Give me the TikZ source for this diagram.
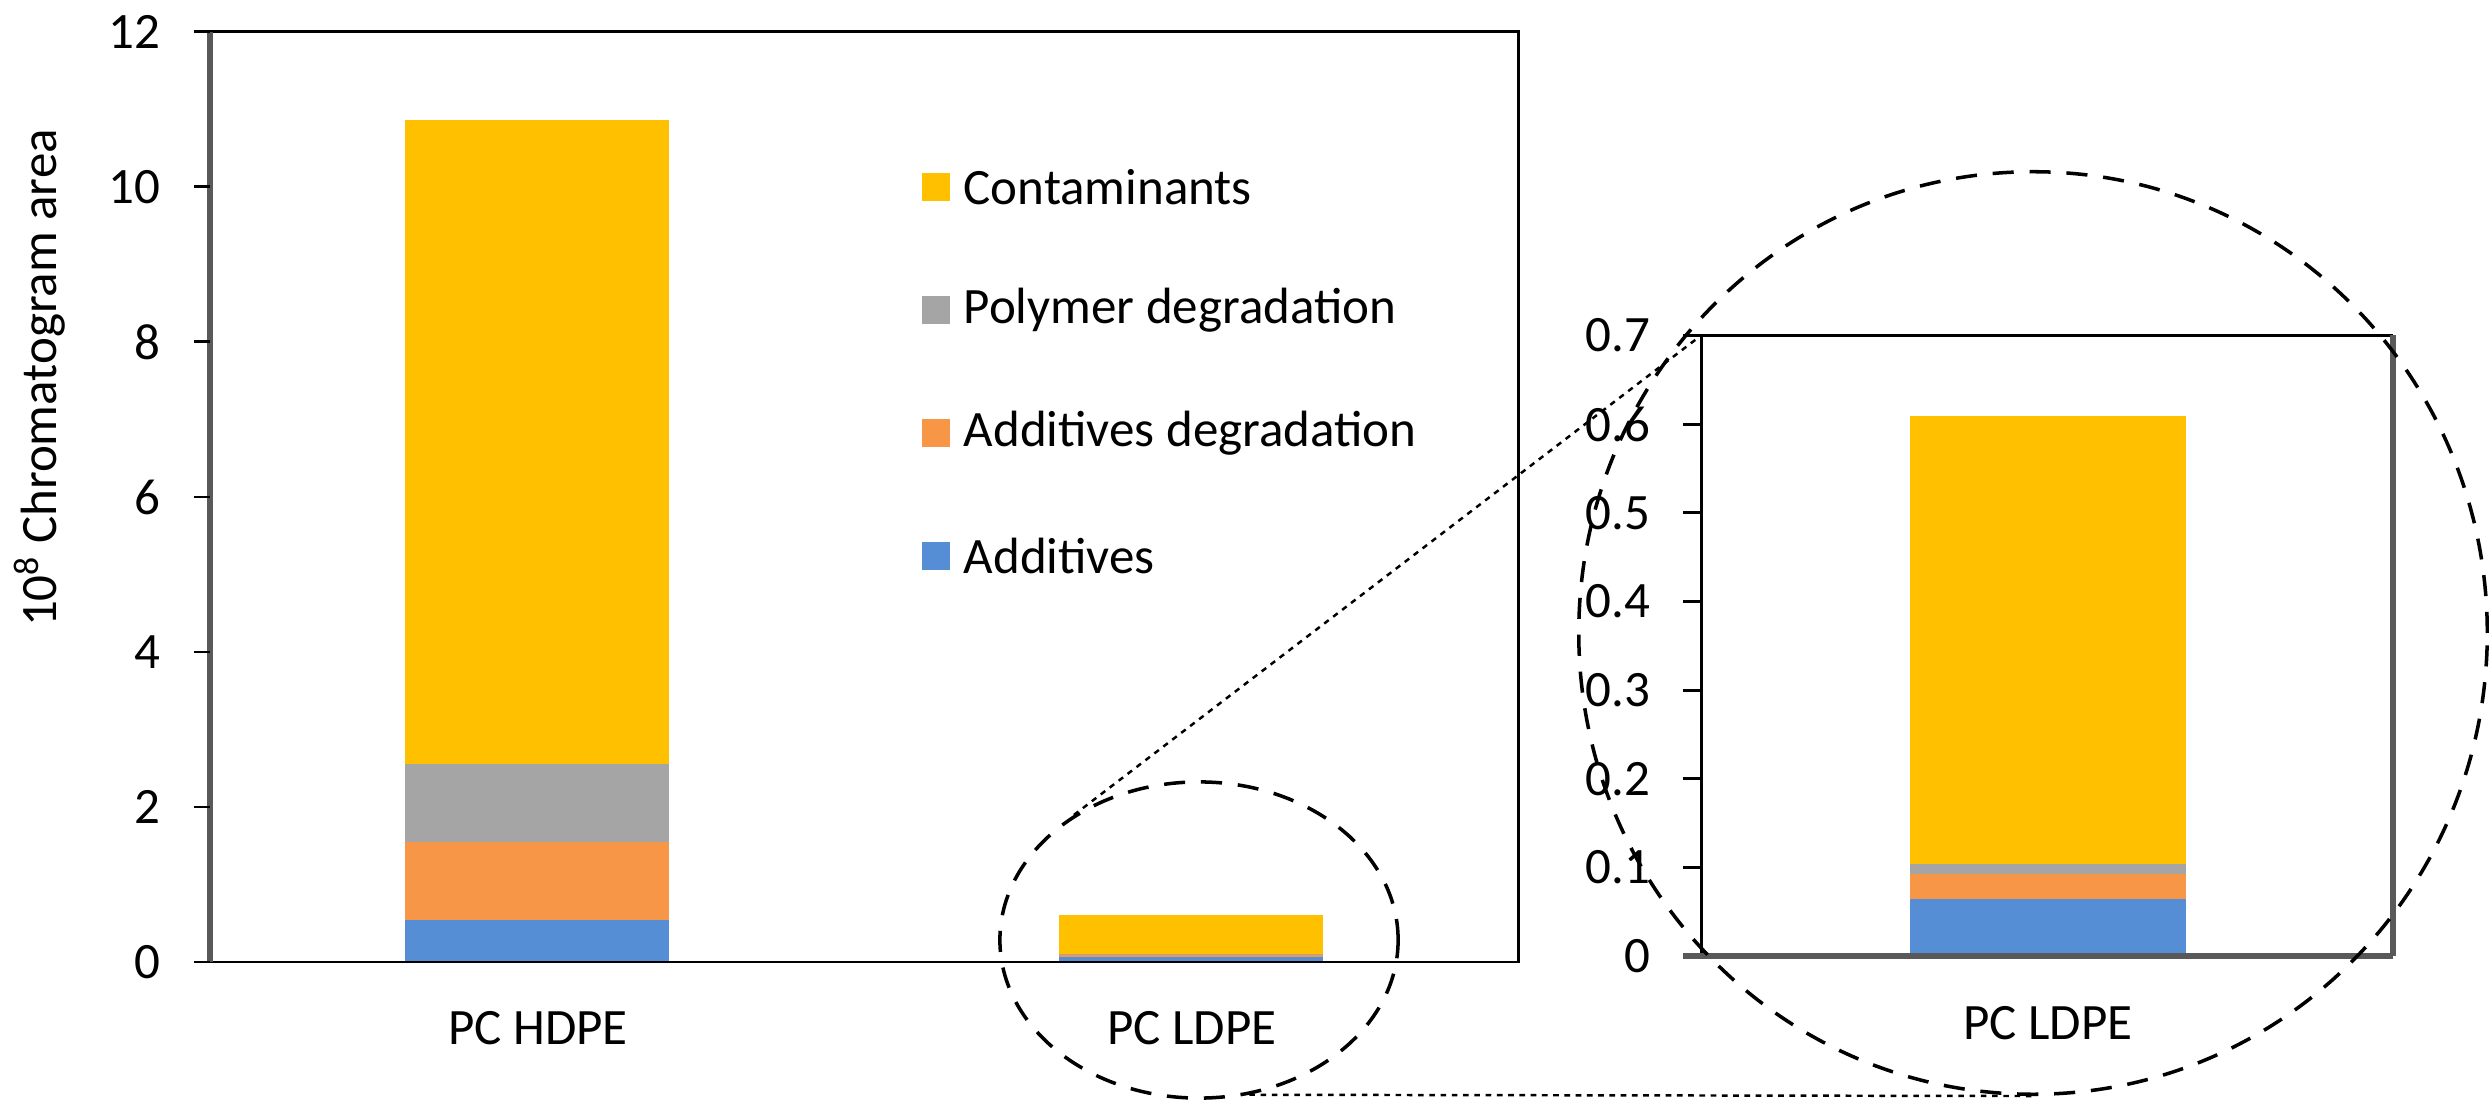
\documentclass[tikz,border=0pt]{standalone}
\usepackage{fontspec}
\setmainfont{Carlito}
\usetikzlibrary{shapes.geometric}
\definecolor{cyel}{HTML}{FFC000}
\definecolor{cgray}{HTML}{A5A5A5}
\definecolor{corange}{HTML}{F79646}
\definecolor{cblue}{HTML}{558ED5}
\definecolor{axisgray}{HTML}{595959}
\tikzset{
  lbl/.style={inner sep=0pt, font=\fontsize{14.5}{17}\selectfont},
  frameline/.style={line width=0.85pt, black},
  axisline/.style={line width=1.5pt, axisgray},
  zoomring/.style={ellipse, draw, inner sep=0pt, line width=1pt, dash pattern=on 6pt off 4.5pt},
  leader/.style={line width=0.7pt, dash pattern=on 1.6pt off 1.6pt},
  legbox/.style={minimum width=0.28cm, minimum height=0.28cm, inner sep=0pt}
}
\begin{document}
\begin{tikzpicture}[x=0.01cm,y=-0.01cm]
\useasboundingbox (0,0) rectangle (2489,1104);
% ---------- main chart ----------
% bars
\fill[cblue]   (405,962)   rectangle (669,920.2);
\fill[corange] (405,920.2) rectangle (669,841.9);
\fill[cgray]   (405,841.9) rectangle (669,764.4);
\fill[cyel]    (405,764.4) rectangle (669,120.4);
\fill[cblue]   (1059,962)   rectangle (1323,957.0);
\fill[corange] (1059,957.0) rectangle (1323,954.9);
\fill[cgray]   (1059,954.9) rectangle (1323,953.9);
\fill[cyel]    (1059,953.9) rectangle (1323,914.8);
% frame
\draw[frameline] (194,31.7) -- (1518,31.7) -- (1518,962) -- (194,962);
\draw[axisline] (210,31.7) -- (210,962);
\foreach \k in {0,...,6} {
  \draw[frameline] (194,962-155*\k) -- (210,962-155*\k);
  \pgfmathtruncatemacro{\v}{2*\k}
  \node[lbl, anchor=east] (mt\k) at (161,962-155*\k) {\v};
}
\node[lbl, rotate=90] (ylab) at (40,378) {10\textsuperscript{8} Chromatogram area};
\node[lbl] (cathdpe) at (538,1028) {PC HDPE};
\node[lbl] (catldpe) at (1192,1028) {PC LDPE};
% legend
\node[legbox, fill=cyel]    (lg1) at (936,187) {};
\node[legbox, fill=cgray]   (lg2) at (936,310) {};
\node[legbox, fill=corange] (lg3) at (936,433) {};
\node[legbox, fill=cblue]   (lg4) at (936,556) {};
\node[lbl, anchor=west] (lt1) at (963,187) {Contaminants};
\node[lbl, anchor=west] (lt2) at (963,310) {Polymer degradation};
\node[lbl, anchor=west] (lt3) at (963,433) {Additives degradation};
\node[lbl, anchor=west] (lt4) at (963,556) {Additives};
% ---------- inset ----------
\fill[cblue]   (1910,956)   rectangle (2186,899.3);
\fill[corange] (1910,899.3) rectangle (2186,874.4);
\fill[cgray]   (1910,874.4) rectangle (2186,863.8);
\fill[cyel]    (1910,863.8) rectangle (2186,416.2);
\draw[frameline] (1701,956) -- (1701,335.5) -- (2393,335.5);
\draw[axisline] (2393,335.5) -- (2393,956);
\draw[axisline] (1683,956) -- (2393,956);
\foreach \k in {1,...,7} {
  \draw[frameline] (1683,956-88.64*\k) -- (1701,956-88.64*\k);
}
\foreach \k/\t in {0/0,1/0.1,2/0.2,3/0.3,4/0.4,5/0.5,6/0.6,7/0.7} {
  \node[lbl, anchor=east] (it\k) at (1651,956-88.64*\k) {\t};
}
\node[lbl] (catinset) at (2048,1023) {PC LDPE};
\coordinate (itl) at (1701,335.5);
% ---------- zoom rings and leaders ----------
\node[zoomring, minimum width=3.98cm, minimum height=3.16cm] (small) at (1199,940) {};
\node[zoomring, minimum width=9.08cm, minimum height=9.22cm] (big) at (2033,633) {};
\draw[leader] (small.135) -- (itl);
\draw[leader] (small.-72) -- (big.south);
\end{tikzpicture}
\end{document}
